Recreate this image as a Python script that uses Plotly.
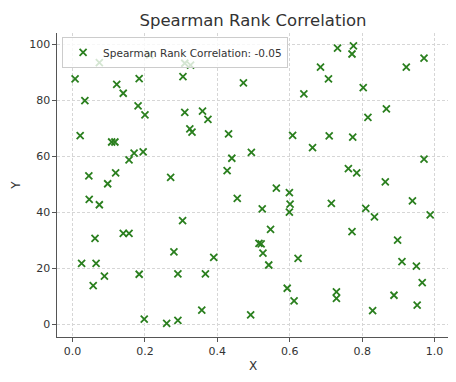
import plotly.graph_objects as go

x_vals = [0.213, 0.074, 0.31, 0.326, 0.007, 0.122, 0.14, 0.184, 0.305, 0.472,
          0.034, 0.181, 0.2, 0.31, 0.359, 0.374, 0.021, 0.108, 0.117, 0.324,
          0.33, 0.431, 0.170, 0.195, 0.156, 0.44, 0.494, 0.045, 0.119, 0.097,
          0.271, 0.427, 0.732, 0.776, 0.772, 0.685, 0.707, 0.922, 0.971, 0.639,
          0.803, 0.867, 0.816, 0.608, 0.709, 0.774, 0.663, 0.762, 0.785, 0.971,
          0.864, 0.563, 0.046, 0.074, 0.455, 0.304, 0.062, 0.14, 0.156, 0.280,
          0.390, 0.025, 0.065, 0.088, 0.184, 0.291, 0.367, 0.057, 0.357, 0.198,
          0.26, 0.291, 0.492, 0.599, 0.601, 0.599, 0.715, 0.524, 0.939, 0.810,
          0.834, 0.988, 0.547, 0.772, 0.515, 0.521, 0.526, 0.898, 0.623, 0.542,
          0.910, 0.950, 0.966, 0.593, 0.729, 0.729, 0.888, 0.612, 0.952, 0.829]
y_vals = [96.2, 93.4, 93.2, 92.5, 87.6, 85.7, 82.5, 87.7, 88.4, 86.2,
          79.9, 78.0, 74.75, 75.7, 76.1, 73.2, 67.4, 65.1, 65.1, 69.75,
          68.6, 68.0, 61.1, 61.6, 58.7, 59.3, 61.4, 53.0, 54.1, 50.2,
          52.5, 54.9, 98.6, 99.4, 96.5, 91.8, 87.6, 91.8, 95.0, 82.25,
          84.5, 76.9, 73.9, 67.5, 67.25, 66.8, 63.1, 55.6, 54.1, 59.0,
          50.9, 48.6, 44.6, 42.7, 45.0, 37.0, 30.7, 32.5, 32.5, 25.9,
          23.9, 21.8, 21.8, 17.25, 17.9, 18.0, 18.0, 13.8, 5.1, 1.9,
          0.36, 1.4, 3.4, 47.0, 42.9, 40.1, 43.2, 41.2, 44.1, 41.4,
          38.4, 39.1, 33.9, 33.1, 28.9, 28.7, 25.4, 30.1, 23.6, 21.2,
          22.4, 20.8, 14.9, 12.9, 11.6, 9.3, 10.4, 8.4, 6.9, 4.9]
series_name = "Spearman Rank Correlation: -0.05"
title_text = "Spearman Rank Correlation"
x_ticks = [0.0, 0.2, 0.4, 0.6, 0.8, 1.0]
y_ticks = [0, 20, 40, 60, 80, 100]

# page body has an 8px margin, so the figure is sized/offset to compensate
W, H = 448, 374

fig = go.Figure()
fig.add_trace(go.Scatter(
    x=x_vals, y=y_vals, mode="markers", name=series_name,
    marker=dict(symbol="x-thin", size=7, color="#2a7f1e",
                line=dict(width=1.8, color="#2a7f1e")),
    showlegend=True,
))

font = "DejaVu Sans, sans-serif"
axis_common = dict(
    showgrid=True, gridcolor="#d6d6d6", griddash="3px,2px", gridwidth=1,
    showline=True, linecolor="#555555", linewidth=1.2,
    ticks="outside", ticklen=3.5, tickcolor="#555555",
    zeroline=False, automargin=False,
    tickfont=dict(size=11, color="#333333", family=font),
)
fig.update_layout(
    width=W, height=H,
    margin=dict(l=49, r=7, t=25, b=45, autoexpand=False),
    paper_bgcolor="white", plot_bgcolor="white",
    title=dict(text=title_text, x=(49 + 441) / 2 / W, xanchor="center",
               y=1 - 12 / H, yanchor="middle",
               font=dict(size=16.5, color="#333333", family=font)),
    font=dict(family=font, color="#333333"),
    legend=dict(x=0.013, y=0.987, xanchor="left", yanchor="top",
                bgcolor="rgba(255,255,255,0.8)", bordercolor="#cccccc",
                borderwidth=1, font=dict(size=10.5, color="#333333", family=font)),
    xaxis=dict(range=[-0.043, 1.04], tickvals=x_ticks, tickformat=".1f",
               title=dict(text="X", font=dict(size=12, color="#333333"), standoff=4),
               **axis_common),
    yaxis=dict(range=[-4.5, 104], tickvals=y_ticks,
               title=dict(text="Y", font=dict(size=12, color="#333333"), standoff=6),
               **axis_common),
)
fig.write_html("out.html")
